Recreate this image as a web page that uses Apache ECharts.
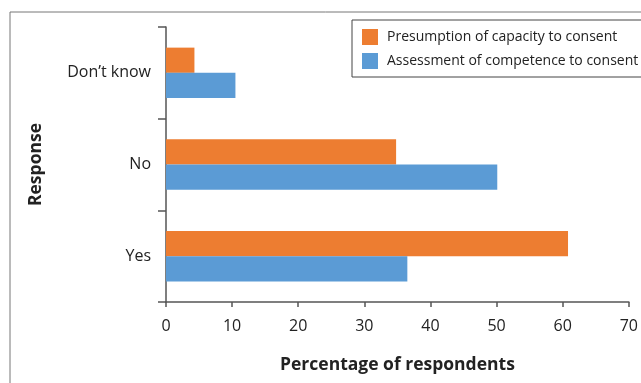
<!DOCTYPE html>
<html>
<head>
<meta charset="utf-8">
<script src="https://cdn.jsdelivr.net/npm/echarts@6/dist/echarts.min.js"></script>
<style>
html, body { margin: 0; padding: 0; background: #fff; }
#main { width: 641px; height: 383px; }
</style>
</head>
<body>
<div id="main"></div>
<script>
var categories = ['Yes', 'No', 'Don\u2019t know'];
var presumption = [60.8, 34.8, 4.3];
var assessment = [36.5, 50.1, 10.5];
var xTicks = [0, 70, 10];

var dom = document.getElementById('main');
var myChart = echarts.init(dom);

var font = '"Open Sans", "Liberation Sans", sans-serif';

var option = {
    animation: false,
    textStyle: { fontFamily: font },
    graphic: [
        {
            type: 'polyline',
            shape: { points: [[10, 383], [10, 12], [641, 12]] },
            style: { fill: null, stroke: '#777', lineWidth: 1 }
        }
    ],
    legend: {
        data: ['Presumption of capacity to consent', 'Assessment of competence to consent'],
        orient: 'vertical',
        left: 352,
        top: 20,
        padding: [9, 20, 8, 10],
        itemGap: 8,
        itemWidth: 16,
        itemHeight: 16,
        borderColor: '#444',
        borderWidth: 1,
        borderRadius: 0,
        icon: 'rect',
        textStyle: { fontSize: 14, color: '#222', fontFamily: font, padding: [0, 0, 0, 4] }
    },
    grid: {
        left: 166,
        right: 9,
        top: 27,
        bottom: 81,
        containLabel: false
    },
    xAxis: {
        type: 'value',
        min: xTicks[0],
        max: xTicks[1],
        interval: xTicks[2],
        name: 'Percentage of respondents',
        nameLocation: 'middle',
        nameGap: 54,
        nameTextStyle: { fontSize: 17.5, fontWeight: 'bold', color: '#222' },
        axisLine: { show: true, lineStyle: { color: '#555', width: 1.5 } },
        axisTick: { show: true, length: 5, lineStyle: { color: '#555', width: 1.5 } },
        axisLabel: { fontSize: 16, color: '#222', margin: 16 },
        splitLine: { show: false }
    },
    yAxis: {
        type: 'category',
        data: categories,
        name: 'Response',
        nameLocation: 'middle',
        nameGap: 121,
        nameRotate: 90,
        nameTextStyle: { fontSize: 17.5, fontWeight: 'bold', color: '#222' },
        axisLine: { show: true, lineStyle: { color: '#555', width: 1.5 } },
        axisTick: { show: true, length: 8, lineStyle: { color: '#555', width: 1.5 } },
        axisLabel: { fontSize: 16, color: '#222', margin: 15 }
    },
    series: [
        {
            name: 'Presumption of capacity to consent',
            type: 'bar',
            data: presumption,
            barGap: '0%',
            barCategoryGap: '45%',
            itemStyle: { color: '#ED7D31' }
        },
        {
            name: 'Assessment of competence to consent',
            type: 'bar',
            data: assessment,
            itemStyle: { color: '#5B9BD5' }
        }
    ]
};

myChart.setOption(option);
</script>
</body>
</html>
